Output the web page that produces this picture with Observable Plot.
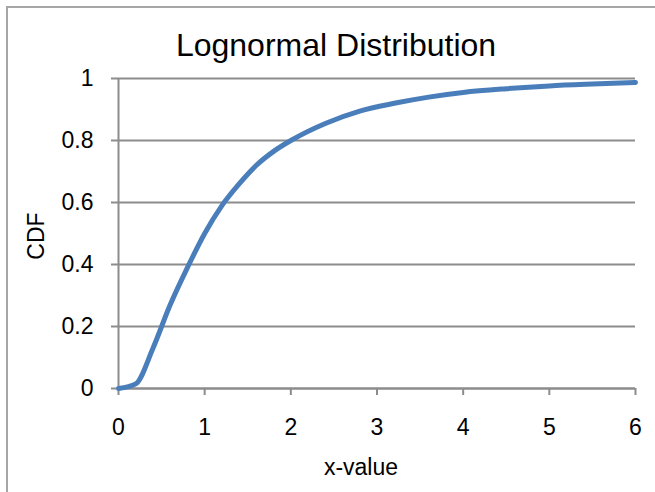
<!DOCTYPE html>
<html>
<head>
<meta charset="utf-8">
<script src="https://cdn.jsdelivr.net/npm/d3@7"></script>
<script src="https://cdn.jsdelivr.net/npm/@observablehq/plot@0.6"></script>
<style>
  html, body { margin: 0; padding: 0; background: #fff; }
  #chart { position: relative; width: 655px; height: 492px; overflow: hidden; font-family: "Liberation Sans", Arial, sans-serif; color: #000; }
  #frame { position: absolute; left: 6px; top: 6px; width: 700px; height: 600px; border: 2px solid #a6a6a6; box-sizing: border-box; }
  #title { position: absolute; left: 0; width: 672px; top: 27px; text-align: center; font-size: 32px; line-height: 36px; }
  #ylabel { position: absolute; left: 36px; top: 236px; transform: translate(-50%, -50%) rotate(-90deg); font-size: 23px; white-space: nowrap; }
  #xlabel { position: absolute; left: 361px; top: 467px; transform: translate(-50%, -50%); font-size: 23px; white-space: nowrap; }
  #plot { position: absolute; left: 0; top: 0; }
</style>
</head>
<body>
<div id="chart">
  <div id="frame"></div>
  <div id="plot"></div>
  <div id="title">Lognormal Distribution</div>
  <div id="ylabel">CDF</div>
  <div id="xlabel">x-value</div>
</div>
<script>
// Cumulative distribution of a lognormal variable
const xValues = [0, 0.2, 0.4, 0.6, 0.8, 1.0, 1.2, 1.4, 1.6, 1.8, 2.0, 2.4, 2.8, 3.2, 3.6, 4.0, 4.5, 5.0, 5.5, 6.0];
const cdfValues = [0, 0.015, 0.13, 0.27, 0.39, 0.50, 0.59, 0.66, 0.72, 0.765, 0.80, 0.855, 0.895, 0.92, 0.94, 0.955, 0.967, 0.976, 0.982, 0.987];
const xTicks = [0, 1, 2, 3, 4, 5, 6];
const yTicks = [0, 0.2, 0.4, 0.6, 0.8, 1];

const data = xValues.map((x, i) => ({x, cdf: cdfValues[i]}));
const gridColor = "#8c8c8c";

const chart = Plot.plot({
  width: 655,
  height: 492,
  marginLeft: 118,
  marginRight: 20,
  marginTop: 78,
  marginBottom: 104,
  style: {fontFamily: "'Liberation Sans', Arial, sans-serif", fontSize: "23px", color: "#000", background: "transparent"},
  x: {domain: [0, 6]},
  y: {domain: [0, 1]},
  marks: [
    Plot.gridY(yTicks, {stroke: gridColor, strokeOpacity: 1, strokeWidth: 2}),
    Plot.ruleX([0], {stroke: gridColor, strokeWidth: 2}),
    Plot.ruleY([0], {stroke: gridColor, strokeWidth: 2}),
    Plot.axisY({ticks: yTicks, tickFormat: d => String(d), tickSize: 7, tickPadding: 18, fontSize: 23, stroke: gridColor, strokeWidth: 2, label: null, fill: "#000"}),
    Plot.axisX({ticks: xTicks, tickFormat: d => String(d), tickSize: 7, tickPadding: 23, fontSize: 23, stroke: gridColor, strokeWidth: 2, label: null, fill: "#000"}),
    Plot.line(data, {x: "x", y: "cdf", stroke: "#4a7ebb", strokeWidth: 5, curve: "monotone-x", strokeLinecap: "round", strokeLinejoin: "round"})
  ]
});
document.getElementById("plot").appendChild(chart);
</script>
</body>
</html>
